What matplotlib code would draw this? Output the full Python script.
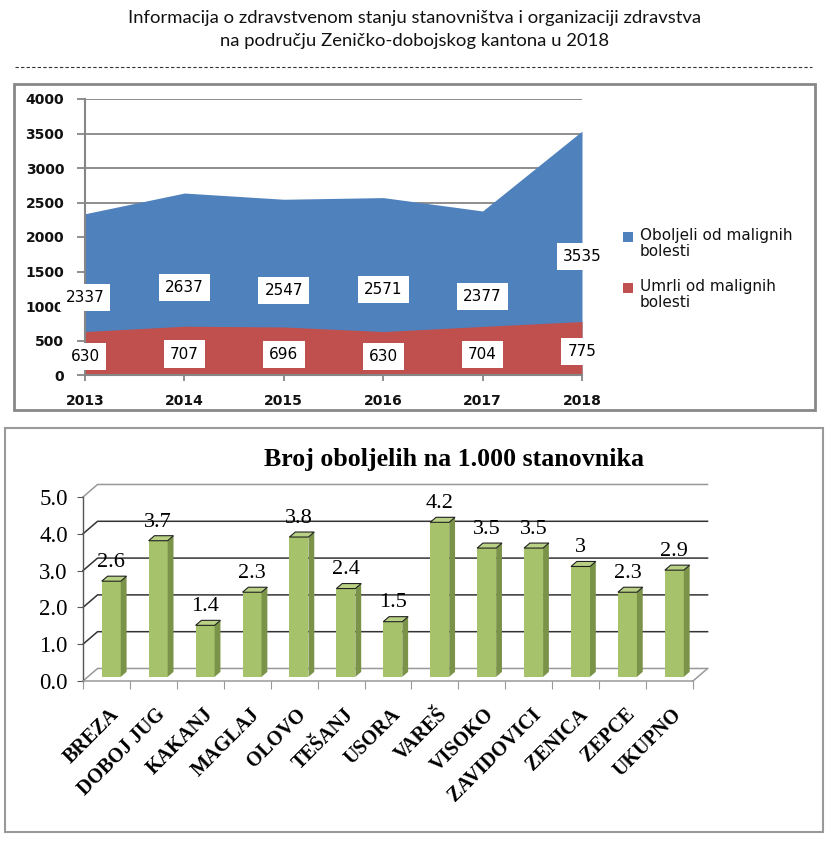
import matplotlib
matplotlib.use("Agg")
import matplotlib.pyplot as plt
from matplotlib.patches import Rectangle, Polygon
from matplotlib.lines import Line2D

# --- podaci ---
godine = [2013, 2014, 2015, 2016, 2017, 2018]
oboljeli = [2337, 2637, 2547, 2571, 2377, 3535]
umrli = [630, 707, 696, 630, 704, 775]
serije = ["Oboljeli od malignih\nbolesti", "Umrli od malignih\nbolesti"]

opcine = ['BREZA', 'DOBOJ JUG', 'KAKANJ', 'MAGLAJ', 'OLOVO', 'TEŠANJ', 'USORA',
          'VAREŠ', 'VISOKO', 'ZAVIDOVICI', 'ZENICA', 'ZEPCE', 'UKUPNO']
stopa = [2.6, 3.7, 1.4, 2.3, 3.8, 2.4, 1.5, 4.2, 3.5, 3.5, 3.0, 2.3, 2.9]

W, H = 830, 842
fig = plt.figure(figsize=(W / 100, H / 100), dpi=100)


def fx(px):
    return px / W


def fy(py):
    return 1 - py / H


# zaglavlje
fig.text(0.5, fy(18), "Informacija o zdravstvenom stanju stanovništva i organizaciji zdravstva",
         ha='center', va='center', fontsize=13.3, family='Lato', color='#111')
fig.text(0.5, fy(41), "na području Zeničko-dobojskog kantona u 2018",
         ha='center', va='center', fontsize=13.3, family='Lato', color='#111')
fig.add_artist(Line2D([fx(15), fx(812)], [fy(67), fy(67)], transform=fig.transFigure,
                      color='#333', lw=0.8, linestyle=(0, (3, 2))))

# okviri
fig.add_artist(Rectangle((fx(14), fy(410)), fx(815) - fx(14), fy(84) - fy(410),
                         transform=fig.transFigure, fill=False, ec='#888888', lw=2))
fig.add_artist(Rectangle((fx(5), fy(832)), fx(823) - fx(5), fy(428) - fy(832),
                         transform=fig.transFigure, fill=False, ec='#999999', lw=1.5))

# ---- gornji grafikon (površinski) ----
plava = '#4F81BD'
crvena = '#C0504D'
siva = '#868686'

ax1 = fig.add_axes([fx(85), fy(375), fx(582) - fx(85), fy(99) - fy(375)])
ax1.fill_between(godine, 0, oboljeli, color=plava, lw=0, zorder=2)
ax1.fill_between(godine, 0, umrli, color=crvena, lw=0, zorder=3)
ax1.set_xlim(godine[0], godine[-1])
ax1.set_ylim(0, 4000)
ax1.set_yticks(range(0, 4001, 500))
ax1.set_xticks(godine)
ax1.grid(axis='y', color=siva, lw=1.3, zorder=1)
ax1.set_axisbelow(True)
for s in ['top', 'right']:
    ax1.spines[s].set_visible(False)
for s in ['left', 'bottom']:
    ax1.spines[s].set_color(siva)
    ax1.spines[s].set_linewidth(1.5)
    ax1.spines[s].set_zorder(4)
ax1.tick_params(axis='y', length=6, width=1.3, color=siva, pad=9, labelsize=10, labelcolor='#111')
ax1.tick_params(axis='x', length=4, width=1.3, color=siva, pad=10, labelsize=10, labelcolor='#111')
for t in ax1.get_xticklabels() + ax1.get_yticklabels():
    t.set_family('DejaVu Sans')
    t.set_weight('bold')

for g, v in zip(godine, oboljeli):
    ax1.text(g, v / 2 - 50, str(v), ha='center', va='center', fontsize=11, zorder=6,
             bbox=dict(boxstyle='square,pad=0.4', fc='white', ec='none'))
for g, v in zip(godine, umrli):
    ax1.text(g, v / 2 - 50, str(v), ha='center', va='center', fontsize=11, zorder=6,
             bbox=dict(boxstyle='square,pad=0.4', fc='white', ec='none'))

# legenda
for k, (boja, naziv) in enumerate(zip([plava, crvena], serije)):
    y0 = 232 + k * 51
    fig.add_artist(Rectangle((fx(623), fy(y0 + 10)), fx(10), fy(0) - fy(10),
                             transform=fig.transFigure, fc=boja, ec='none'))
    fig.text(fx(640), fy(y0 - 4), naziv, ha='left', va='top', fontsize=11,
             linespacing=1.05, family='DejaVu Sans', color='#111')

# ---- donji grafikon (3D stupci) ----
fig.text(fx(454), fy(459), "Broj oboljelih na 1.000 stanovnika", ha='center', va='center',
         fontsize=18.6, family='Liberation Serif', weight='bold')

n = len(opcine)
ax2 = fig.add_axes([fx(83), fy(681), fx(693) - fx(83), fy(497) - fy(681)])
ax2.set_xlim(0, n)
ax2.set_ylim(0, 5)
dx, dy = 0.31, 0.34          # pomak zadnjeg zida
f, b, w = 0.33, 0.4, 0.405   # položaj stupca po dubini, dubina, širina

# zid i pod
for k in range(6):
    c = '#999999' if k in (0, 5) else '#333333'
    ax2.plot([0, dx, n + dx], [k, k + dy, k + dy], color=c, lw=1.1, clip_on=False, zorder=1)
ax2.plot([n, n + dx], [0, dy], color='#999999', lw=1.1, clip_on=False, zorder=1)

lice = '#A6C26B'
bok = '#7A9349'
vrh = '#B9D185'
for i, v in enumerate(stopa):
    x0 = i + 0.5 - w / 2 + f * dx
    x1 = x0 + w
    y0 = f * dy
    y1 = v + f * dy
    ax2.add_patch(Polygon([(x0, y0), (x1, y0), (x1, y1), (x0, y1)], closed=True,
                          fc=lice, ec='none', zorder=3, clip_on=False))
    ax2.add_patch(Polygon([(x1, y0), (x1 + b * dx, y0 + b * dy), (x1 + b * dx, y1 + b * dy), (x1, y1)],
                          closed=True, fc=bok, ec='none', zorder=3, clip_on=False))
    ax2.add_patch(Polygon([(x0, y1), (x1, y1), (x1 + b * dx, y1 + b * dy), (x0 + b * dx, y1 + b * dy)],
                          closed=True, fc=vrh, ec='#222222', lw=0.8, zorder=4, clip_on=False))
    ax2.text(i + 0.5 + f * dx, y1 + 0.25, f"{v:g}", ha='center', va='bottom',
             fontsize=16, family='Liberation Serif', zorder=5)

for s in ['top', 'right']:
    ax2.spines[s].set_visible(False)
ax2.spines['left'].set_color('#555555')
ax2.spines['bottom'].set_color('#999999')
ax2.spines['left'].set_linewidth(1)
ax2.spines['bottom'].set_linewidth(1.1)
ax2.set_yticks(range(6))
ax2.set_yticklabels([f"{k:.1f}" for k in range(6)], family='Liberation Serif', fontsize=16.5)
ax2.set_xticks(range(n + 1))
ax2.set_xticklabels([])
ax2.set_xticks([i + 0.5 + 0.2 for i in range(n)], minor=True)
ax2.set_xticklabels(opcine, minor=True, rotation=45, ha='right', va='center',
                    rotation_mode='anchor', family='Liberation Serif', weight='bold', fontsize=14.5)
ax2.tick_params(axis='y', length=4, color='#555555', pad=7)
ax2.tick_params(axis='x', which='major', length=6, color='#999999')
ax2.tick_params(axis='x', which='minor', length=0, pad=22)

fig.savefig('out.png', dpi=100)
